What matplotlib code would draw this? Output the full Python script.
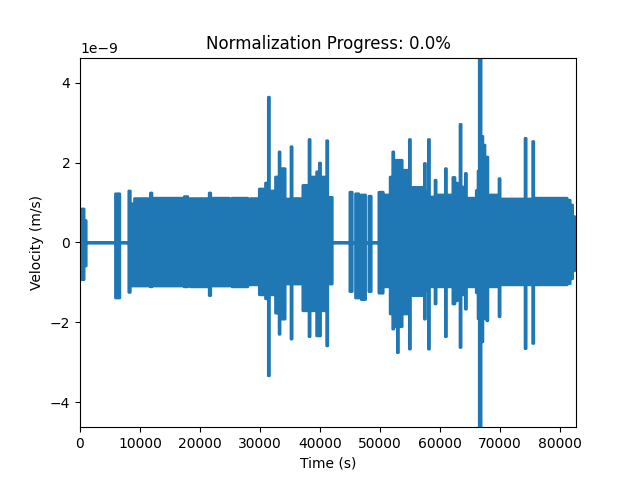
import numpy as np
import matplotlib
matplotlib.use("Agg")
import matplotlib.pyplot as plt

# Envelope of the velocity trace (units of 1e-9 m/s).
# Each entry starts a segment that lasts until the next start time.
seg_start = [0, 150, 600, 950, 5830, 6550,
             8050, 8300, 9000, 11650, 11900, 17300, 17900, 18300, 21450, 21700,
             24800, 25200, 27900, 28300, 29800, 30830, 31300, 31480, 32500, 32950,
             33100, 33250, 34100, 35080, 35260, 37050, 38080, 38260, 39350, 39800,
             40000, 41020, 41200, 41950,
             44890, 45280, 45830, 46390, 46780, 47500, 48060, 48440, 49720, 50440,
             50670, 51600, 52030, 52200, 52800, 52980, 53600, 54800, 54980, 57300,
             57480, 57970, 58150, 59080, 59260, 60800, 60980, 62050, 62400, 62800,
             63240, 63420, 64130, 64310, 65950, 66250, 66450, 66750, 67050, 67400,
             67700, 67880, 69740, 69920, 74080, 74260, 75350, 75530, 81100, 81600,
             82000, 82350]
seg_upper = [0, 0.85, 0.56, 0, 1.23, 0,
             1.30, 0.98, 1.11, 1.25, 1.12, 1.16, 1.00, 1.11, 1.25, 1.12,
             0.92, 1.12, 0.95, 1.11, 1.35, 1.50, 3.65, 1.30, 1.65, 1.40,
             2.28, 1.86, 1.10, 2.41, 1.11, 1.44, 2.59, 1.65, 1.78, 2.00,
             1.65, 2.56, 1.14, 0,
             1.27, 0, 1.23, 0, 1.20, 0, 1.17, 0, 1.27, 0,
             1.20, 1.65, 2.28, 2.07, 2.07, 2.07, 1.82, 2.59, 1.39, 1.99,
             1.30, 2.59, 1.15, 1.57, 1.20, 1.86, 1.20, 1.64, 1.50, 1.20,
             2.97, 1.40, 1.74, 1.12, 1.31, 1.80, 5.00, 2.67, 2.45, 1.60,
             2.15, 1.20, 1.61, 1.10, 2.62, 1.10, 2.54, 1.12, 1.07, 0.95,
             0.66, 0.25]
seg_lower = [0, -0.92, -0.58, 0, -1.38, 0,
             -1.24, -1.08, -1.08, -1.10, -1.08, -1.10, -1.05, -1.10, -1.32, -1.08,
             -1.05, -1.10, -1.05, -1.05, -1.30, -1.40, -3.33, -1.30, -1.76, -1.50,
             -2.29, -1.91, -1.03, -2.41, -1.03, -1.70, -2.35, -1.70, -2.33, -2.33,
             -1.70, -2.58, -1.03, 0,
             -1.22, 0, -1.38, 0, -1.42, 0, -1.22, 0, -1.26, 0,
             -1.10, -1.78, -2.16, -2.10, -2.75, -2.10, -1.78, -2.66, -1.32, -1.91,
             -1.20, -2.66, -1.10, -1.53, -1.10, -2.35, -1.10, -1.53, -1.45, -1.10,
             -2.62, -1.30, -1.66, -1.10, -1.25, -1.90, -5.00, -2.48, -1.90, -1.50,
             -1.95, -1.10, -1.85, -1.05, -2.65, -1.05, -2.52, -1.05, -1.02, -0.90,
             -0.70, -0.25]
trace_end = 82550
x_max = 82650
y_lim = 4.63
scale = 1e-9

t = np.array(seg_start + [trace_end], dtype=float)
up = np.array(seg_upper + [0.0]) * scale
lo = np.array(seg_lower + [0.0]) * scale

fig, ax = plt.subplots(figsize=(6.4, 4.8), dpi=100)
ax.fill_between(t, lo, up, step="post", facecolor="#1f77b4",
                edgecolor="#1f77b4", linewidth=2, snap=False,
                joinstyle="round", capstyle="round")
ax.set_xlim(0, x_max)
ax.set_ylim(-y_lim * scale, y_lim * scale)
ax.set_title("Normalization Progress: 0.0%")
ax.set_xlabel("Time (s)")
ax.set_ylabel("Velocity (m/s)")
fig.savefig("out.png", dpi=100)
